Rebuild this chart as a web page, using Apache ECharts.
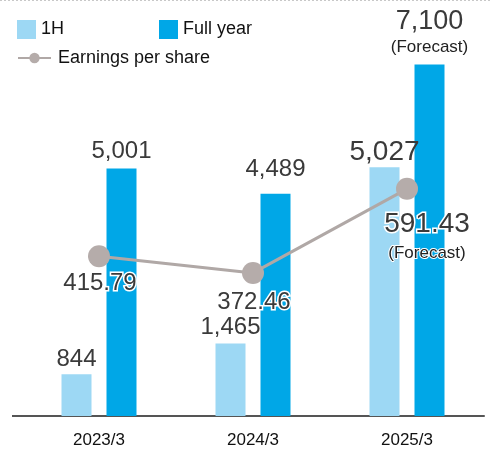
<!DOCTYPE html>
<html>
<head>
<meta charset="utf-8">
<script src="https://cdn.jsdelivr.net/npm/echarts@6/dist/echarts.min.js"></script>
<style>
html,body{margin:0;padding:0;background:#fff;}
#chart{width:492px;height:449px;}
</style>
</head>
<body>
<div id="chart"></div>
<script>
const categories = ['2023/3', '2024/3', '2025/3'];
const firstHalf = [844, 1465, 5027];
const fullYear = [5001, 4489, 7100];
const eps = [415.79, 372.46, 591.43];
const forecastLabel = '(Forecast)';
const forecastIndex = 2;

const FONT = 'Arial, "Liberation Sans", sans-serif';
const NUM_COLOR = '#3a3a3a';
const fmt = v => v.toLocaleString('en-US');

const chart = echarts.init(document.getElementById('chart'), null, {renderer: 'canvas'});

const fyDistance = [5, 12, 7];
const fhDistance = [3, 4, 1];

const option = {
  animation: false,
  backgroundColor: '#fff',
  textStyle: {fontFamily: FONT},
  graphic: [
    {type: 'line', shape: {x1: 0, y1: 0.5, x2: 492, y2: 0.5}, style: {stroke: '#c8c8c8', lineWidth: 1, lineDash: [2, 2]}, silent: true},
    {type: 'line', shape: {x1: 12, y1: 416, x2: 23, y2: 416}, style: {stroke: '#555', lineWidth: 2}, silent: true}
  ],
  legend: [
    {
      data: [{name: '1H', icon: 'rect'}, {name: 'Full year', icon: 'rect'}],
      left: 12, top: 15, itemWidth: 19, itemHeight: 19, itemGap: 95,
      textStyle: {fontSize: 18, color: '#111', fontFamily: FONT},
      selectedMode: false
    },
    {
      data: ['Earnings per share'],
      left: 12, top: 44, itemWidth: 33, itemHeight: 13, itemGap: 8,
      textStyle: {fontSize: 18, color: '#111', fontFamily: FONT, padding: [0, 0, 0, 2]},
      selectedMode: false
    }
  ],
  grid: {left: 22, right: 8, top: 20, bottom: 33, containLabel: false, outerBoundsMode: 'none'},
  xAxis: {
    type: 'category',
    data: categories,
    axisLine: {show: true, lineStyle: {color: '#555', width: 2}},
    axisTick: {show: false},
    axisLabel: {fontSize: 17, color: '#111', margin: 16, fontFamily: FONT}
  },
  yAxis: [
    {type: 'value', min: 0, max: 8000, show: false, splitLine: {show: false}},
    {type: 'value', min: 0, max: 1031, show: false, splitLine: {show: false}}
  ],
  series: [
    {
      name: '1H', type: 'bar', barWidth: 30, barGap: '50%',
      itemStyle: {color: '#9dd8f4'},
      data: firstHalf.map((v, i) => ({
        value: v,
        label: {
          show: true, position: 'top', distance: fhDistance[i],
          fontSize: i === forecastIndex ? 28 : 24, color: NUM_COLOR, fontFamily: FONT,
          formatter: p => fmt(p.value)
        }
      })),
      z: 2
    },
    {
      name: 'Full year', type: 'bar', barWidth: 30, barGap: '50%',
      itemStyle: {color: '#00a7e7'},
      data: fullYear.map((v, i) => ({
        value: v,
        label: {
          show: true, position: 'top', distance: fyDistance[i],
          color: NUM_COLOR, fontFamily: FONT,
          fontSize: i === forecastIndex ? 27 : 24,
          formatter: p => p.dataIndex === forecastIndex ? '{a|' + fmt(p.value) + '}\n{b|' + forecastLabel + '}' : fmt(p.value),
          rich: {
            a: {fontSize: 27, color: NUM_COLOR, fontFamily: FONT, lineHeight: 30, align: 'center'},
            b: {fontSize: 17, color: '#222', fontFamily: FONT, lineHeight: 21, align: 'center'}
          }
        }
      })),
      z: 2
    },
    {
      name: 'Earnings per share', type: 'line', yAxisIndex: 1,
      symbol: 'circle', symbolSize: 22,
      lineStyle: {color: '#b0a8a6', width: 3},
      itemStyle: {color: '#b5acaa'},
      data: eps.map((v, i) => ({
        value: v,
        label: {
          show: true, position: 'bottom',
          distance: i === forecastIndex ? 9 : (i === 0 ? 4 : 6),
          offset: i === forecastIndex ? [20, 0] : [1, 0],
          color: NUM_COLOR, fontFamily: FONT,
          fontSize: i === forecastIndex ? 28 : 24,
          textBorderColor: '#fff', textBorderWidth: 3,
          formatter: p => p.dataIndex === forecastIndex ? '{a|' + p.value.toFixed(2) + '}\n{b|' + forecastLabel + '}' : p.value.toFixed(2),
          rich: {
            a: {fontSize: 28, color: NUM_COLOR, fontFamily: FONT, lineHeight: 30, textBorderColor: '#fff', textBorderWidth: 3, align: 'center'},
            b: {fontSize: 17, color: '#222', fontFamily: FONT, lineHeight: 28, textBorderColor: '#fff', textBorderWidth: 2, align: 'center'}
          }
        }
      })),
      z: 5
    }
  ]
};
chart.setOption(option);
</script>
</body>
</html>
